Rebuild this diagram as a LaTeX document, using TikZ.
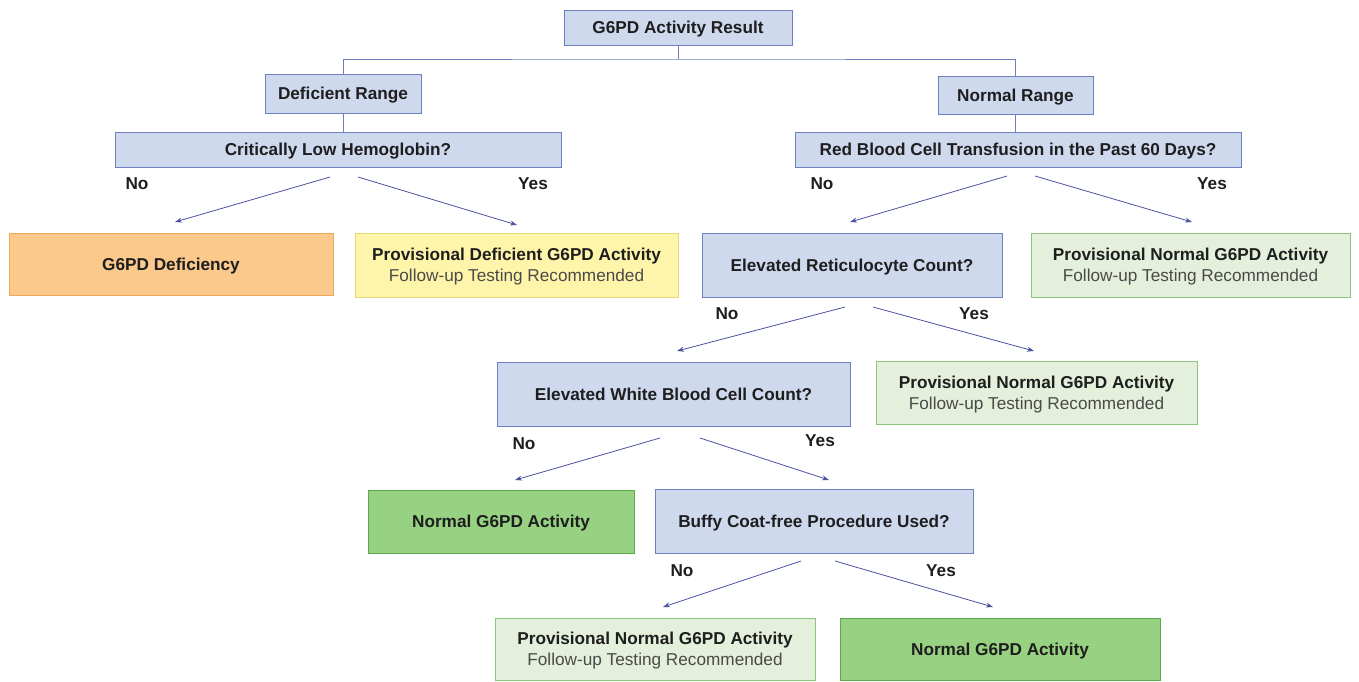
\documentclass[tikz,border=0pt]{standalone}
\usepackage{fontspec}
\setmainfont{Liberation Sans}
\usetikzlibrary{arrows.meta}
\definecolor{bfill}{HTML}{CFD9EE}
\definecolor{bdraw}{HTML}{6F80C2}
\definecolor{ofill}{HTML}{FBC98B}
\definecolor{odraw}{HTML}{F2A65A}
\definecolor{yfill}{HTML}{FFF5AA}
\definecolor{ydraw}{HTML}{E6D77A}
\definecolor{lgfill}{HTML}{E4F0DB}
\definecolor{lgdraw}{HTML}{8BC47B}
\definecolor{dgfill}{HTML}{97D182}
\definecolor{dgdraw}{HTML}{5DAA4A}
\definecolor{arr}{HTML}{4A52A0}
\definecolor{txt}{HTML}{1E1E1E}
\definecolor{sub}{HTML}{4A4A4A}
\tikzset{
  box/.style={draw, line width=0.9pt, inner sep=0pt, align=center, text=txt,
    text depth=0pt, font=\fontsize{17.2}{21}\selectfont\bfseries},
  bluebox/.style={box, fill=bfill, draw=bdraw},
  orangebox/.style={box, fill=ofill, draw=odraw},
  yellowbox/.style={box, fill=yfill, draw=ydraw},
  lgbox/.style={box, fill=lgfill, draw=lgdraw},
  dgbox/.style={box, fill=dgfill, draw=dgdraw},
  tree/.style={draw=bdraw, line width=0.9pt},
  arrow/.style={draw=arr, line width=0.8pt, -{Stealth[length=7pt,width=5pt]}},
  lab/.style={text=txt, font=\fontsize{17.2}{20}\selectfont\bfseries, inner sep=0pt}
}
\newcommand{\subline}[1]{\\{\mdseries\color{sub}#1}}
\begin{document}
\begin{tikzpicture}[x=1pt,y=-1pt]
\useasboundingbox (0,0) rectangle (1359,681);
% boxes
\node[bluebox, minimum width=228pt, minimum height=35pt] (top) at (678,27.5) {G6PD Activity Result};
\node[bluebox, minimum width=156pt, minimum height=39pt] (def) at (343,93.5) {Deficient Range};
\node[bluebox, minimum width=155pt, minimum height=38pt] (norm) at (1015.5,95) {Normal Range};
\node[bluebox, minimum width=446pt, minimum height=35pt] (crit) at (338,149.5) {Critically Low Hemoglobin?};
\node[bluebox, minimum width=446pt, minimum height=35pt] (rbc) at (1018,149.5) {Red Blood Cell Transfusion in the Past 60 Days?};
\node[orangebox, minimum width=324pt, minimum height=62pt] (defy) at (171,264) {G6PD Deficiency};
\node[yellowbox, minimum width=323pt, minimum height=64pt] (provdef) at (516.5,265) {Provisional Deficient G6PD Activity\subline{Follow-up Testing Recommended}};
\node[bluebox, minimum width=300pt, minimum height=64pt] (retic) at (852,265) {Elevated Reticulocyte Count?};
\node[lgbox, minimum width=319pt, minimum height=64pt] (prov1) at (1190.5,265) {Provisional Normal G6PD Activity\subline{Follow-up Testing Recommended}};
\node[bluebox, minimum width=353pt, minimum height=64pt] (wbc) at (673.5,394) {Elevated White Blood Cell Count?};
\node[lgbox, minimum width=321pt, minimum height=63pt] (prov2) at (1036.5,392.5) {Provisional Normal G6PD Activity\subline{Follow-up Testing Recommended}};
\node[dgbox, minimum width=266pt, minimum height=63pt] (norm1) at (501,521.5) {Normal G6PD Activity};
\node[bluebox, minimum width=318pt, minimum height=64pt] (buffy) at (814,521) {Buffy Coat-free Procedure Used?};
\node[lgbox, minimum width=320pt, minimum height=62pt] (prov3) at (655,649) {Provisional Normal G6PD Activity\subline{Follow-up Testing Recommended}};
\node[dgbox, minimum width=320pt, minimum height=62pt] (norm2) at (1000,649) {Normal G6PD Activity};
% tree lines
\coordinate (junc) at (678,59);
\draw[tree] (top.south) -- (junc);
\draw[tree] (def.north) |- (junc) -| (norm.north);
\draw[tree] (def.south) -- (crit.north -| def.south);
\draw[tree] (norm.south) -- (rbc.north -| norm.south);
% arrows
\coordinate (a1s) at (330,177); \coordinate (a1e) at (175,222);
\coordinate (a2s) at (358,177); \coordinate (a2e) at (517,225);
\coordinate (a3s) at (1007,176); \coordinate (a3e) at (850,222);
\coordinate (a4s) at (1035,176); \coordinate (a4e) at (1192,222);
\coordinate (a5s) at (845,307); \coordinate (a5e) at (677,351);
\coordinate (a6s) at (873,307); \coordinate (a6e) at (1034,351);
\coordinate (a7s) at (660,438); \coordinate (a7e) at (515,480);
\coordinate (a8s) at (700,438); \coordinate (a8e) at (829,480);
\coordinate (a9s) at (801,561); \coordinate (a9e) at (663,607);
\coordinate (a10s) at (835,561); \coordinate (a10e) at (993,607);
\draw[arrow] (a1s) -- (a1e);
\draw[arrow] (a2s) -- (a2e);
\draw[arrow] (a3s) -- (a3e);
\draw[arrow] (a4s) -- (a4e);
\draw[arrow] (a5s) -- (a5e);
\draw[arrow] (a6s) -- (a6e);
\draw[arrow] (a7s) -- (a7e);
\draw[arrow] (a8s) -- (a8e);
\draw[arrow] (a9s) -- (a9e);
\draw[arrow] (a10s) -- (a10e);
% labels
\node[lab] (l1) at (137,184) {No};
\node[lab] (l2) at (533,184) {Yes};
\node[lab] (l3) at (822,184) {No};
\node[lab] (l4) at (1212,184) {Yes};
\node[lab] (l5) at (727,314) {No};
\node[lab] (l6) at (974,314) {Yes};
\node[lab] (l7) at (524,444) {No};
\node[lab] (l8) at (820,441) {Yes};
\node[lab] (l9) at (682,571) {No};
\node[lab] (l10) at (941,571) {Yes};
\end{tikzpicture}
\end{document}
